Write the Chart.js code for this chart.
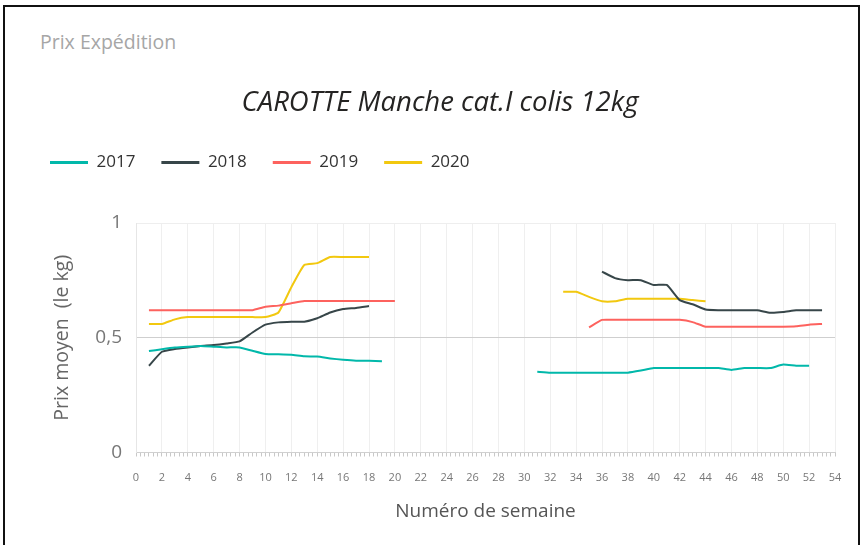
<!DOCTYPE html>
<html>
<head>
<meta charset="utf-8">
<script src="https://cdn.jsdelivr.net/npm/chart.js@4.4.0/dist/chart.umd.min.js"></script>
<style>
  body { margin: 0; background: #fff; }
  #carte {
    position: absolute; left: 3px; top: 5px; width: 857px; height: 600px;
    border: 2px solid #111; box-sizing: border-box;
  }
  #entete {
    position: absolute; left: 40px; top: 28px;
    font-family: "Open Sans", sans-serif; font-size: 19.5px; color: #a6a6a6;
  }
  #zone { position: absolute; left: 0; top: 0; width: 863px; height: 545px; }
</style>
</head>
<body>
<div id="carte"></div>
<div id="entete">Prix Expédition</div>
<div id="zone"><canvas id="myChart" width="863" height="545"></canvas></div>
<script>
const chartDOM = document.getElementById("myChart").getContext("2d")

// semaines 1 a 53
const semaines = []
for (let s = 1; s <= 53; s++) semaines.push(s)

const annees = ["2017", "2018", "2019", "2020"]
const couleurs = ["#01B8AA", "#374649", "#FD625E", "#F2C80F"]

const prix2017 = [0.442, 0.45, 0.457, 0.461, 0.464, 0.461, 0.458, 0.458, 0.443, 0.429,
  0.428, 0.426, 0.419, 0.418, 0.41, 0.404, 0.4, 0.4, 0.398, null,
  null, null, null, null, null, null, null, null, null, null,
  0.352, 0.348, 0.348, 0.348, 0.348, 0.348, 0.348, 0.348, 0.357, 0.368,
  0.368, 0.368, 0.368, 0.368, 0.368, 0.36, 0.368, 0.368, 0.368, 0.383,
  0.378, 0.378, null]

const prix2018 = [0.378, 0.439, 0.451, 0.458, 0.464, 0.468, 0.475, 0.484, 0.523, 0.557,
  0.567, 0.57, 0.57, 0.585, 0.61, 0.625, 0.63, 0.638, null, null,
  null, null, null, null, null, null, null, null, null, null,
  null, null, null, null, null, 0.788, 0.76, 0.751, 0.751, 0.73,
  0.73, 0.664, 0.646, 0.623, 0.62, 0.62, 0.62, 0.62, 0.609, 0.612,
  0.62, 0.62, 0.62]

const prix2019 = [0.62, 0.62, 0.62, 0.62, 0.62, 0.62, 0.62, 0.62, 0.62, 0.635,
  0.64, 0.65, 0.66, 0.66, 0.66, 0.66, 0.66, 0.66, 0.66, 0.66,
  null, null, null, null, null, null, null, null, null, null,
  null, null, null, null, 0.545, 0.578, 0.578, 0.578, 0.578, 0.578,
  0.578, 0.578, 0.568, 0.548, 0.548, 0.548, 0.548, 0.548, 0.548, 0.548,
  0.55, 0.557, 0.56]

const prix2020 = [0.56, 0.56, 0.58, 0.59, 0.59, 0.59, 0.59, 0.59, 0.59, 0.59,
  0.61, 0.72, 0.817, 0.825, 0.852, 0.852, 0.852, 0.852, null, null,
  null, null, null, null, null, null, null, null, null, null,
  null, null, 0.70, 0.70, 0.678, 0.659, 0.659, 0.67, 0.67, 0.67,
  0.67, 0.67, 0.664, 0.659, null, null, null, null, null, null,
  null, null, null]

const yTicks = [0, 0.5, 1]

const series = [prix2017, prix2018, prix2019, prix2020]

const datasets = series.map((prix, i) => {
  return {
    label: annees[i],
    data: semaines.map((s, j) => ({x: s, y: prix[j]})),
    borderColor: couleurs[i],
    backgroundColor: couleurs[i],
    borderWidth: 2,
    pointRadius: 0,
    tension: 0.15,
    spanGaps: false
  }
})

const estPair = v => Math.abs(v - Math.round(v)) < 1e-6 && Math.round(v) % 2 === 0

// espace en plus sous la legende, et legende decalee vers la gauche
const espaceLegende = {
  id: "espaceLegende",
  beforeInit(chart) {
    const fitOrig = chart.legend.fit
    chart.legend.fit = function () {
      fitOrig.bind(chart.legend)()
      this.height += 42
    }
  },
  afterLayout(chart) {
    chart.legend.left -= 21
    chart.legend.right -= 21
  }
}

const config = {
  type: "line",
  data: {datasets},
  plugins: [espaceLegende],
  options: {
    responsive: false,
    animation: false,
    layout: {padding: {left: 45, right: 28, top: 0, bottom: 18}},
    plugins: {
      title: {
        display: true,
        text: "CAROTTE Manche cat.I colis 12kg",
        color: "#252423",
        font: {family: "Open Sans", size: 27.5, style: "italic", weight: "normal"},
        padding: {top: 87, bottom: 8}
      },
      legend: {
        align: "start",
        labels: {
          color: "#333",
          font: {family: "Open Sans", size: 17},
          boxWidth: 38,
          boxHeight: 3,
          padding: 26,
          generateLabels: chart => Chart.defaults.plugins.legend.labels.generateLabels(chart)
            .map(l => ({...l, lineWidth: 0, fillStyle: l.strokeStyle}))
        }
      },
      tooltip: {enabled: false}
    },
    scales: {
      x: {
        type: "linear",
        min: 0,
        max: 54,
        ticks: {
          stepSize: 1 / 3,
          autoSkip: false,
          maxRotation: 0,
          padding: 15,
          color: "#777",
          font: {family: "Open Sans", size: 11},
          callback: v => estPair(v) ? String(Math.round(v)) : ""
        },
        grid: {
          color: c => estPair(c.tick.value) ? "#efefef" : "rgba(0,0,0,0)",
          tickColor: "#c8c8c8",
          tickLength: 4
        },
        border: {color: "#d0d0d0"},
        title: {
          display: true,
          text: "Numéro de semaine",
          color: "#555",
          font: {family: "Open Sans", size: 19},
          padding: {top: 0.5, bottom: 4}
        }
      },
      y: {
        min: 0,
        max: 1,
        afterFit: scale => { scale.width = 91 },
        afterBuildTicks: scale => { scale.ticks = yTicks.map(v => ({value: v})) },
        ticks: {
          padding: 14,
          color: "#777",
          font: {family: "Open Sans", size: 19},
          callback: v => String(v).replace(".", ",")
        },
        grid: {
          drawTicks: false,
          color: c => c.tick.value === 0.5 ? "#cfcfcf" : "#eeeeee"
        },
        border: {color: "#e6e6e6"},
        title: {
          display: true,
          text: "Prix moyen  (le kg)",
          color: "#666",
          font: {family: "Open Sans", size: 19.5},
          padding: {top: 6}
        }
      }
    }
  }
}

new Chart(chartDOM, config)
</script>
</body>
</html>
